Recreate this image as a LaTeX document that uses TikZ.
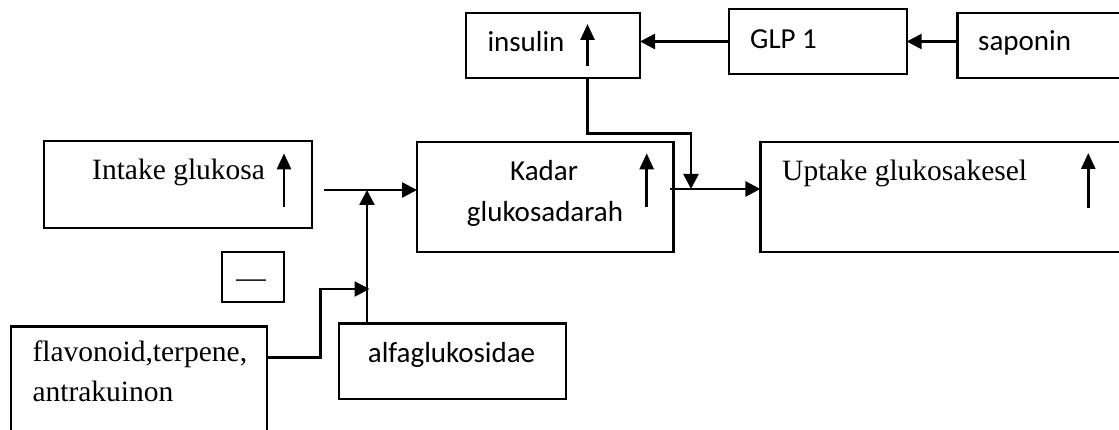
\documentclass[tikz,border=0pt]{standalone}
\usepackage{fontspec}
\setmainfont{Liberation Serif}
\newfontfamily\calibri{Carlito}
\usetikzlibrary{arrows.meta}
\begin{document}
\begin{tikzpicture}[x=1pt,y=-1pt,
  box/.style={draw,line width=2.2pt,inner sep=0pt,outer sep=0pt,anchor=north west},
  txt/.style={inner sep=0pt,anchor=base west,font=\fontsize{29.5}{35}\selectfont},
  cal/.style={inner sep=0pt,anchor=base west,font=\calibri\fontsize{29}{35}\selectfont},
  arr/.style={line width=2.6pt,-{Triangle[length=15pt,width=15pt]}},
  uparr/.style={line width=2.6pt,-{Triangle[length=16pt,width=14pt]}}]
\useasboundingbox (0,0) rectangle (1119,430);
\clip (0,0) rectangle (1119,430);
% boxes
\node[box,minimum width=174pt,minimum height=65.6pt] (insulin) at (466,12.7) {};
\node[box,minimum width=177.4pt,minimum height=65pt] (glp) at (729.3,9) {};
\node[box,minimum width=180pt,minimum height=65.6pt] (sap) at (957.4,12.7) {};
\node[box,minimum width=268pt,minimum height=87.6pt] (intake) at (44.3,140.7) {};
\node[box,minimum width=256.5pt,minimum height=109.4pt] (kadar) at (417,142.3) {};
\node[box,minimum width=380pt,minimum height=109.4pt] (uptake) at (760.4,142.3) {};
\node[box,minimum width=62.3pt,minimum height=49.4pt] (minus) at (221.7,252.3) {};
\node[box,minimum width=255.7pt,minimum height=130pt] (flav) at (11,326.5) {};
\node[box,minimum width=226.7pt,minimum height=75.8pt] (alfa) at (339.3,323.5) {};
% texts
\node[cal] (tinsulin) at (487.3,51.7) {insulin};
\node[cal] (tglp) at (750,48.3) {GLP 1};
\node[cal] (tsap) at (978,51) {saponin};
\node[txt] (tintake) at (92,179.3) {Intake glukosa};
\node[cal,anchor=base] (tkadar1) at (544,181) {Kadar};
\node[cal,anchor=base] (tkadar2) at (545,221.5) {glukosadarah};
\node[txt] (tuptake) at (782,181) {Uptake glukosakesel};
\node[txt,anchor=base] (tminus) at (251,288) {—};
\node[txt] (tflav1) at (32.3,361.7) {flavonoid,terpene,};
\node[txt] (tflav2) at (32.3,401.7) {antrakuinon};
\node[cal] (talfa) at (367.7,362.3) {alfaglukosidae};
% up arrows inside boxes
\draw[uparr] (587.5,66.5) -- (587.5,24);
\draw[uparr] (284,207.3) -- (284,153.3);
\draw[uparr] (646.7,207.3) -- (646.7,153.3);
\draw[uparr] (1088.3,208) -- (1088.3,153);
% junction coordinates
\coordinate (jin) at (324.3,190);
\coordinate (jv) at (367,190);
\coordinate (fb) at (320.7,289);
\coordinate (jf) at (369.5,289);
\coordinate (ij) at (691,133.3);
% connectors
\draw[arr] (glp.west) -- (glp.west -| insulin.east);
\draw[arr] (sap.west |- glp.west) -- (glp.east);
\draw[arr] (jin) -- (jin -| kadar.west);
\draw[arr] (jv |- alfa.north) -- (jv);
\draw[arr] ([yshift=-30.8pt]flav.north east) -| (fb) -- (jf);
\draw[arr] ([xshift=-4pt,yshift=8pt]kadar.east) coordinate (kj) -- (kj -| uptake.west);
\draw[arr] ([xshift=34.7pt]insulin.south) |- (ij) -- (ij |- kj);
\end{tikzpicture}
\end{document}
